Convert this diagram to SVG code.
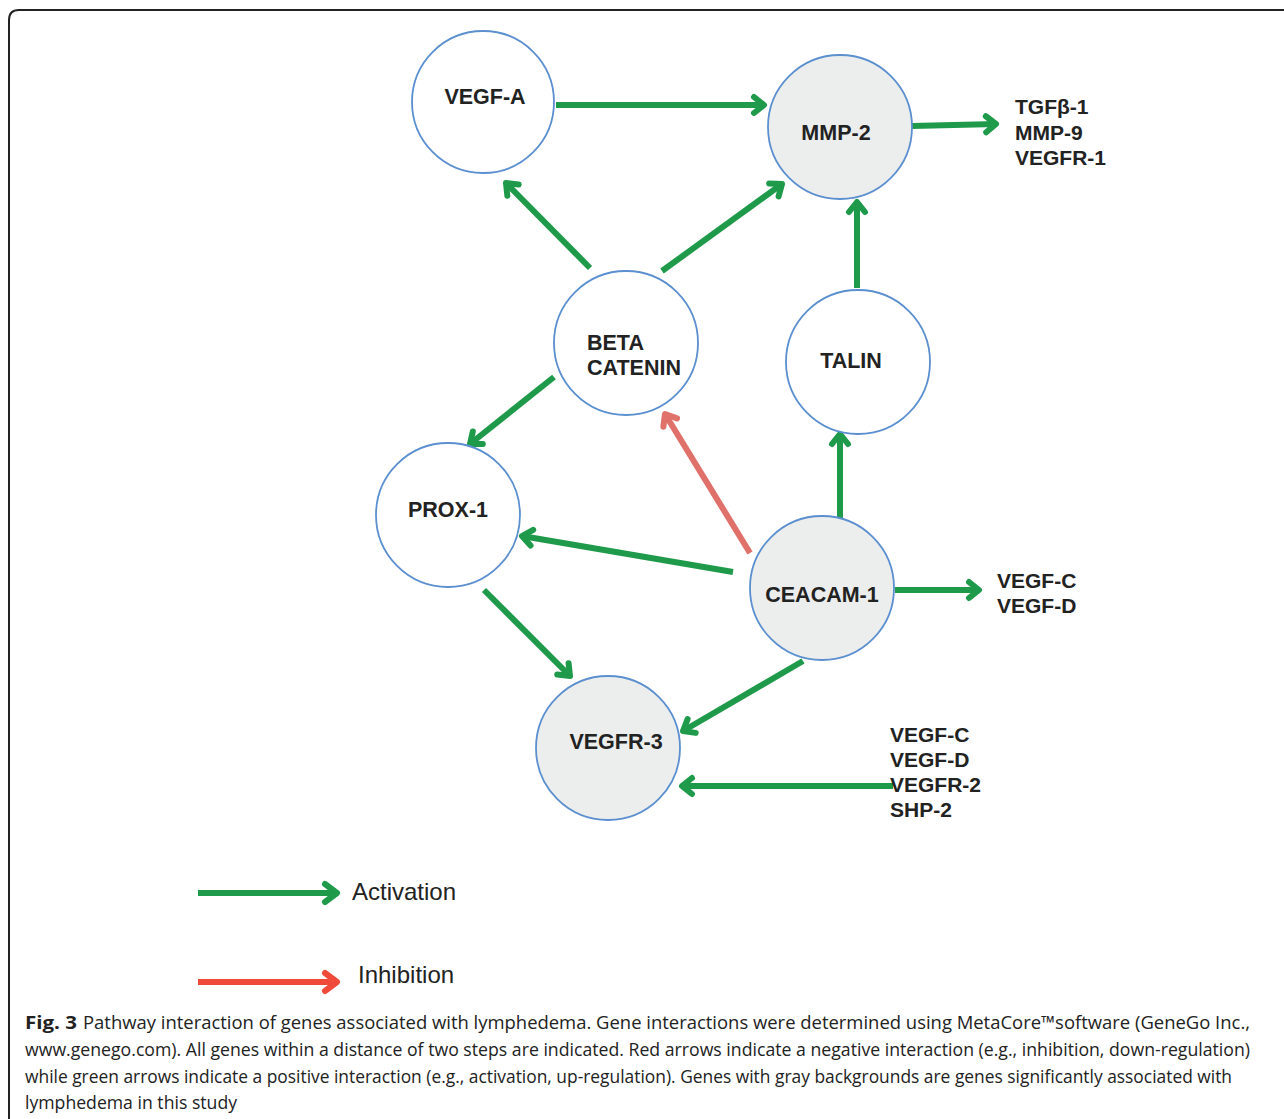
<svg xmlns="http://www.w3.org/2000/svg" width="1284" height="1119" viewBox="0 0 1284 1119">
<defs>
<style>
.node{stroke:#5b8fcf;stroke-width:1.8;fill:#fff}
.gray{fill:#eceeed}
.lbl{font-family:"Liberation Sans",Arial,sans-serif;font-weight:bold;font-size:21.5px;fill:#222}
.ext{font-family:"Liberation Sans",Arial,sans-serif;font-weight:bold;font-size:21px;fill:#222}
.act{stroke:#1f9a4a;stroke-width:6;fill:none;marker-end:url(#ga)}
.inh{stroke:#e0706a;stroke-width:6;fill:none;marker-end:url(#ra)}
.leg{font-family:"Liberation Sans",Arial,sans-serif;font-size:24px;fill:#222}
.cap{font-family:"Open Sans","Liberation Sans",sans-serif;font-size:18px;fill:#222}
</style>
<marker id="ga" viewBox="-12 -10 14 20" refX="0" refY="0" markerWidth="14" markerHeight="20" markerUnits="userSpaceOnUse" orient="auto" overflow="visible">
<path d="M-10,-8 L0,0 L-10,8" fill="none" stroke="#1f9a4a" stroke-width="6" stroke-linecap="round" stroke-linejoin="round"/>
</marker>
<marker id="ra" viewBox="-12 -10 14 20" refX="0" refY="0" markerWidth="14" markerHeight="20" markerUnits="userSpaceOnUse" orient="auto" overflow="visible">
<path d="M-10,-8 L0,0 L-10,8" fill="none" stroke="#e0706a" stroke-width="6" stroke-linecap="round" stroke-linejoin="round"/>
</marker>
<marker id="la" viewBox="-12 -10 14 20" refX="0" refY="0" markerWidth="14" markerHeight="20" markerUnits="userSpaceOnUse" orient="auto" overflow="visible">
<path d="M-12,-9 L0,0 L-12,9" fill="none" stroke="#1f9a4a" stroke-width="6" stroke-linecap="round" stroke-linejoin="round"/>
</marker>
<marker id="lr" viewBox="-12 -10 14 20" refX="0" refY="0" markerWidth="14" markerHeight="20" markerUnits="userSpaceOnUse" orient="auto" overflow="visible">
<path d="M-12,-9 L0,0 L-12,9" fill="none" stroke="#f04a3a" stroke-width="6" stroke-linecap="round" stroke-linejoin="round"/>
</marker>
</defs>
<rect width="1284" height="1119" fill="#fff"/>
<path d="M9,1119 V20 Q9,10 19,10 H1284" fill="none" stroke="#222" stroke-width="2"/>

<g id="connectors">
<line class="act" x1="556" y1="105" x2="764" y2="105"/>
<line class="act" x1="590" y1="268" x2="506" y2="183"/>
<line class="act" x1="662" y1="271" x2="782" y2="184"/>
<line class="act" x1="912" y1="126" x2="996" y2="124"/>
<line class="act" x1="857" y1="288" x2="857" y2="202"/>
<line class="act" x1="554" y1="377" x2="470" y2="444"/>
<line class="act" x1="840" y1="518" x2="840" y2="434"/>
<line class="act" x1="733" y1="572" x2="522" y2="536"/>
<line class="act" x1="895" y1="590" x2="979" y2="590"/>
<line class="act" x1="484" y1="590" x2="570" y2="676"/>
<line class="act" x1="803" y1="661" x2="683" y2="731"/>
<line class="act" x1="893" y1="786" x2="682" y2="786"/>
<line class="inh" x1="750" y1="553" x2="665" y2="414"/>
</g>

<g id="node-vegfa"><circle class="node" cx="483" cy="102" r="71"/><text class="lbl" x="485" y="104" text-anchor="middle">VEGF-A</text></g>
<g id="node-mmp2"><circle class="node gray" cx="840" cy="127" r="72"/><text class="lbl" x="836" y="140" text-anchor="middle">MMP-2</text></g>
<g id="node-beta"><circle class="node" cx="626" cy="343" r="72"/><text class="lbl" x="587" y="350">BETA</text><text class="lbl" x="587" y="375">CATENIN</text></g>
<g id="node-talin"><circle class="node" cx="858" cy="362" r="72"/><text class="lbl" x="851" y="368" text-anchor="middle">TALIN</text></g>
<g id="node-prox1"><circle class="node" cx="448" cy="515" r="72"/><text class="lbl" x="448" y="517" text-anchor="middle">PROX-1</text></g>
<g id="node-ceacam1"><circle class="node gray" cx="822" cy="588" r="72"/><text class="lbl" x="822" y="602" text-anchor="middle">CEACAM-1</text></g>
<g id="node-vegfr3"><circle class="node gray" cx="608" cy="748" r="72"/><text class="lbl" x="616" y="749" text-anchor="middle">VEGFR-3</text></g>

<g id="ext-mmp2-targets"><text class="ext" x="1015" y="114">TGFβ-1</text><text class="ext" x="1015" y="140">MMP-9</text><text class="ext" x="1015" y="165">VEGFR-1</text></g>
<g id="ext-ceacam-targets"><text class="ext" x="997" y="588">VEGF-C</text><text class="ext" x="997" y="613">VEGF-D</text></g>
<g id="ext-vegfr3-sources"><text class="ext" x="890" y="742">VEGF-C</text><text class="ext" x="890" y="767">VEGF-D</text><text class="ext" x="890" y="792">VEGFR-2</text><text class="ext" x="890" y="817">SHP-2</text></g>

<g id="legend">
<line x1="198" y1="893" x2="337" y2="893" stroke="#1f9a4a" stroke-width="6" marker-end="url(#la)"/>
<text class="leg" x="352" y="900">Activation</text>
<line x1="198" y1="982" x2="337" y2="982" stroke="#f04a3a" stroke-width="6" marker-end="url(#lr)"/>
<text class="leg" x="358" y="983">Inhibition</text>
</g>

<g id="caption">
<text class="cap" x="25" y="1029" font-weight="bold" fill="#111" textLength="52" lengthAdjust="spacingAndGlyphs">Fig. 3</text>
<text class="cap" x="83" y="1029" textLength="1167" lengthAdjust="spacingAndGlyphs">Pathway interaction of genes associated with lymphedema. Gene interactions were determined using MetaCore™software (GeneGo Inc.,</text>
<text class="cap" x="25" y="1056" textLength="1225" lengthAdjust="spacingAndGlyphs">www.genego.com). All genes within a distance of two steps are indicated. Red arrows indicate a negative interaction (e.g., inhibition, down-regulation)</text>
<text class="cap" x="25" y="1083" textLength="1207" lengthAdjust="spacingAndGlyphs">while green arrows indicate a positive interaction (e.g., activation, up-regulation). Genes with gray backgrounds are genes significantly associated with</text>
<text class="cap" x="25" y="1109" textLength="212" lengthAdjust="spacingAndGlyphs">lymphedema in this study</text>
</g>
</svg>
